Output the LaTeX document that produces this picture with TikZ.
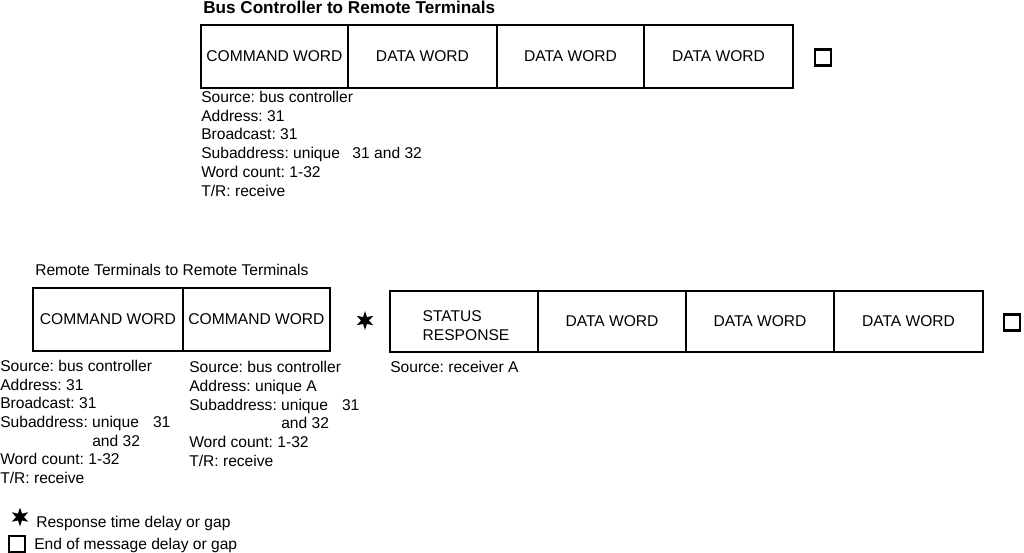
\documentclass[tikz,border=0pt]{standalone}
\usepackage{fontspec}
\setmainfont{Liberation Sans}
\usetikzlibrary{shapes.geometric}
\frenchspacing
\begin{document}
\begin{tikzpicture}[x=0.75pt,y=-0.75pt,
  every node/.style={inner sep=0pt, font=\fontsize{11.7}{14}\selectfont},
  cell/.style={draw, line width=1.6pt, minimum width=#1*0.75pt, minimum height=63*0.75pt},
  txt/.style={anchor=base west},
  gap/.style={draw, line width=2.1pt, minimum size=16*0.75pt},
  resp/.style={star, star points=6, star point ratio=2.4, fill=black, minimum size=19*0.75pt}]
\useasboundingbox (0,0) rectangle (1024,553);

% ---- top: bus controller to remote terminals
\node[txt, font=\fontsize{12.85}{15}\selectfont\bfseries] (t1) at (203,13) {Bus Controller to Remote Terminals};
\node[cell=147] (a1) at (274.5,56.5) {COMMAND WORD};
\node[cell=149] (a2) at (422.5,56.5) {DATA WORD};
\node[cell=147] (a3) at (570.5,56.5) {DATA WORD};
\node[cell=149] (a4) at (718.5,56.5) {DATA WORD};
\node[gap] (g1) at (823,57.5) {};

\node[txt] (a5) at (201,102.5) {Source: bus controller};
\node[txt] (a6) at (201,121.2) {Address: 31};
\node[txt] (a7) at (201,139.9) {Broadcast: 31};
\node[txt] (a8) at (201,158.5) {Subaddress: unique\hspace{0.8em}31 and 32};
\node[txt] (a9) at (201,177.3) {Word count: 1-32};
\node[txt] (a10) at (201,196) {T/R: receive};

% ---- bottom: remote terminals to remote terminals
\node[txt] (t2) at (35,275.5) {Remote Terminals to Remote Terminals};
\node[cell=150] (b1) at (108,319.5) {COMMAND WORD};
\node[cell=147] (b2) at (256.5,319.5) {COMMAND WORD};
\node[resp] (s1) at (365,320.5) {};
\node[cell=148, minimum height=61*0.75pt] (c1) at (464,321.5) {};
\node[align=left] (c1t) at (466,325.5) {STATUS\\RESPONSE};
\node[cell=148, minimum height=61*0.75pt] (c2) at (612,321.5) {DATA WORD};
\node[cell=148, minimum height=61*0.75pt] (c3) at (760,321.5) {DATA WORD};
\node[cell=149, minimum height=61*0.75pt] (c4) at (908.5,321.5) {DATA WORD};
\node[gap] (g2) at (1012,322.5) {};

\node[txt] (b3) at (0,371.5) {Source: bus controller};
\node[txt] (b4) at (0,390.2) {Address: 31};
\node[txt] (b5) at (0,408.8) {Broadcast: 31};
\node[txt] (b6) at (0,427.5) {Subaddress: unique\hspace{0.9em}31};
\node[txt] (b7) at (92,446.2) {and 32};
\node[txt] (b8) at (0,464.8) {Word count: 1-32};
\node[txt] (b9) at (0,483.5) {T/R: receive};

\node[txt] (d1) at (189,372.5) {Source: bus controller};
\node[txt] (d2) at (189,391.3) {Address: unique A};
\node[txt] (d3) at (189,410.1) {Subaddress: unique\hspace{0.9em}31};
\node[txt] (d4) at (281,428.9) {and 32};
\node[txt] (d5) at (189,447.7) {Word count: 1-32};
\node[txt] (d6) at (189,466.5) {T/R: receive};

\node[txt] (c5) at (390,372.5) {Source: receiver A};

% ---- legend
\node[resp] (s2) at (20,517) {};
\node[txt] (l1) at (36,527.5) {Response time delay or gap};
\node[gap] (g3) at (17,544) {};
\node[txt] (l2) at (34,549.5) {End of message delay or gap};
\end{tikzpicture}
\end{document}
